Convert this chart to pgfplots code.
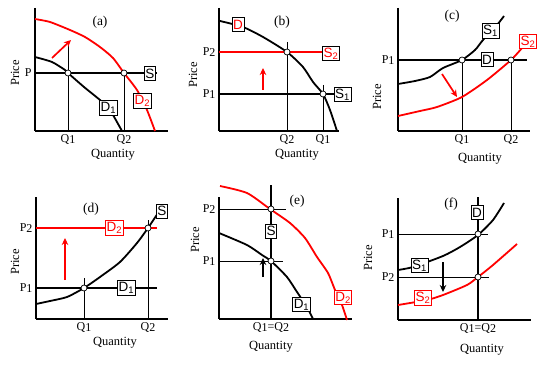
\documentclass[border=0pt]{standalone}
\usepackage{pgfplots}
\pgfplotsset{compat=1.18}
\usepackage{fontspec}
\setmainfont{Liberation Serif}
\setsansfont{Liberation Sans}
\usetikzlibrary{arrows.meta}
\definecolor{ered}{RGB}{255,0,0}
\newcommand{\lo}[1]{\raisebox{-1.5pt}{#1}}
\pgfplotsset{
  panel/.style={
    x=1pt, y=1pt, y dir=reverse,
    anchor=south west,
    axis x line=bottom, axis y line=left,
    axis line style={-, line width=1.2pt},
    major tick length=0pt,
    clip=false,
    tick label style={font=\fontsize{12}{13}\selectfont},
    label style={font=\fontsize{12.5}{13}\selectfont},
  },
  curve/.style={line width=1.8pt, smooth, tension=0.4, no marks},
  thin/.style={line width=0.8pt, no marks},
  eq/.style={only marks, mark=square*, mark size=3pt, mark options={fill=white, draw=black, line width=0.7pt}},
}
\tikzset{
  lab/.style={draw=black, fill=white, line width=0.7pt, inner xsep=1pt, inner ysep=1.5pt, minimum height=14pt, font=\sffamily\fontsize{13.5}{13}\selectfont},
  ttl/.style={font=\fontsize{13.5}{14}\selectfont},
  arr/.style={line width=1.7pt, -{Stealth[length=7pt,width=6.5pt]}},
}
\begin{document}
\begin{tikzpicture}
\path[use as bounding box] (0,0) rectangle (546pt,-366pt);
% (a)
\begin{axis}[panel, at={(35pt,-131pt)}, xmin=35, xmax=168, ymin=8, ymax=131,
  xtick={68,124}, xticklabels={Q\lo{1},Q\lo{2}}, ytick={73}, yticklabels={P},
  xlabel=Quantity, ylabel=Price,
  xlabel style={at={(axis cs:113,155)}, anchor=center},
  ylabel style={at={(axis cs:15,73)}, anchor=center}]
\addplot[thin] coordinates {(68,45) (68,131)};
\addplot[thin] coordinates {(124,73) (124,131)};
\addplot[curve] coordinates {(35,57) (52,62) (65,70) (68,73) (84,87) (100,100) (108,108) (113,115) (122,131)};
\addplot[line width=1.8pt, no marks] coordinates {(35,73) (157,73)};
\addplot[curve, ered] coordinates {(35,19) (50,22) (70,30) (85,37) (100,47) (113,58) (124,73) (137,90) (147,110) (155,131)};
\addplot[arr, ered] coordinates {(52,58) (71,40)};
\addplot[eq] coordinates {(68,73) (124,73)};
\node[ttl] at (axis cs:100,22) {(a)};
\node[lab] at (axis cs:150,73.5) {S};
\node[lab] at (axis cs:108.5,108) {D\textsubscript{1}};
\node[lab, text=ered] at (axis cs:142.5,101) {D\textsubscript{2}};
\end{axis}
% (b)
\begin{axis}[panel, at={(219pt,-131pt)}, xmin=219, xmax=339, ymin=8, ymax=131,
  xtick={287,323}, xticklabels={Q\lo{2},Q\lo{1}}, ytick={52,94}, yticklabels={P\lo{2},P\lo{1}},
  xlabel=Quantity, ylabel=Price,
  xlabel style={at={(axis cs:297,155)}, anchor=center},
  ylabel style={at={(axis cs:193,75)}, anchor=center}]
\addplot[thin] coordinates {(287,42) (287,131)};
\addplot[thin] coordinates {(323,85) (323,131)};
\addplot[line width=1.8pt, no marks, ered] coordinates {(219,52) (340,52)};
\addplot[line width=1.8pt, no marks] coordinates {(219,94) (335,94)};
\addplot[curve] coordinates {(220,21) (243,27) (263,37) (287,52) (303,67) (313,82) (323,94) (330,110) (337,131)};
\addplot[arr, ered] coordinates {(263,90) (263,68)};
\addplot[eq] coordinates {(287,52) (323,94)};
\node[ttl] at (axis cs:282,22) {(b)};
\node[lab, text=ered] at (axis cs:238,24.5) {D};
\node[lab, text=ered] at (axis cs:331,53.5) {S\textsubscript{2}};
\node[lab] at (axis cs:342.5,94.5) {S\textsubscript{1}};
\end{axis}
% (c)
\begin{axis}[panel, at={(398pt,-131pt)}, xmin=398, xmax=530, ymin=8, ymax=131,
  xtick={462,511}, xticklabels={Q\lo{1},Q\lo{2}}, ytick={60}, yticklabels={P\lo{1}},
  xlabel=Quantity, ylabel=Price,
  xlabel style={at={(axis cs:480,159)}, anchor=center},
  ylabel style={at={(axis cs:377,97)}, anchor=center}]
\addplot[thin] coordinates {(462,60) (462,131)};
\addplot[thin] coordinates {(511,60) (511,131)};
\addplot[line width=1.8pt, no marks] coordinates {(398,60) (527,60)};
\addplot[curve] coordinates {(398,84) (415,81) (430,77) (443,68) (462,60) (475,50) (483,40) (497,25) (504,16)};
\addplot[curve, ered] coordinates {(398,116) (420,111) (437,107) (462,97) (487,80) (511,60) (522,48)};
\addplot[arr, ered] coordinates {(442,74) (457,97)};
\addplot[eq] coordinates {(462,60) (511,60)};
\node[ttl] at (axis cs:452,16) {(c)};
\node[lab] at (axis cs:490.5,31) {S\textsubscript{1}};
\node[lab, draw=ered, text=ered] at (axis cs:528,41.5) {S\textsubscript{2}};
\node[lab] at (axis cs:487,59.5) {D};
\end{axis}
% (d)
\begin{axis}[panel, at={(36pt,-319pt)}, xmin=36, xmax=168, ymin=197, ymax=319,
  xtick={84,148}, xticklabels={Q\lo{1},Q\lo{2}}, ytick={228,288}, yticklabels={P\lo{2},P\lo{1}},
  xlabel=Quantity, ylabel=Price,
  xlabel style={at={(axis cs:115,343)}, anchor=center},
  ylabel style={at={(axis cs:15,262)}, anchor=center}]
\addplot[thin] coordinates {(84,278) (84,319)};
\addplot[thin] coordinates {(148,220) (148,319)};
\addplot[line width=1.8pt, no marks, ered] coordinates {(36,228) (157,228)};
\addplot[line width=1.8pt, no marks] coordinates {(36,288) (157,288)};
\addplot[curve] coordinates {(36,304) (50,301) (67,297) (84,288) (100,277) (120,262) (137,243) (148,228) (158,213)};
\addplot[arr, ered] coordinates {(65,280) (65,238)};
\addplot[eq] coordinates {(84,288) (148,228)};
\node[ttl] at (axis cs:91,209) {(d)};
\node[lab, draw=ered, text=ered] at (axis cs:114.5,228) {D\textsubscript{2}};
\node[lab] at (axis cs:126.5,288) {D\textsubscript{1}};
\node[lab] at (axis cs:162,211) {S};
\end{axis}
% (e)
\begin{axis}[panel, at={(219pt,-319pt)}, xmin=219, xmax=352, ymin=197, ymax=319,
  xtick={271}, xticklabels={Q\lo{1}=Q\lo{2}}, ytick={209,261}, yticklabels={P\lo{2},P\lo{1}},
  xlabel=Quantity, ylabel=Price,
  xlabel style={at={(axis cs:271,347)}, anchor=center},
  ylabel style={at={(axis cs:195,240)}, anchor=center}]
\addplot[thin] coordinates {(219,209) (286,209)};
\addplot[thin] coordinates {(219,261) (283,261)};
\addplot[line width=1.8pt, no marks] coordinates {(271,185) (271,319)};
\addplot[curve] coordinates {(219,233) (247,245) (262,255) (271,261) (287,277) (297,292) (307,307) (313,319)};
\addplot[curve, ered] coordinates {(220,186) (247,193) (270,209) (290,223) (305,238) (317,257) (328,273) (335,290) (342,305) (347,320)};
\addplot[arr] coordinates {(263,277) (263,258)};
\addplot[eq] coordinates {(271,209) (271,261)};
\node[ttl] at (axis cs:297,201) {(e)};
\node[lab] at (axis cs:271,231) {S};
\node[lab] at (axis cs:301.5,304.5) {D\textsubscript{1}};
\node[lab, draw=ered, text=ered] at (axis cs:343,297.5) {D\textsubscript{2}};
\end{axis}
% (f)
\begin{axis}[panel, at={(398pt,-320pt)}, xmin=398, xmax=531, ymin=198, ymax=320,
  xtick={478}, xticklabels={Q\lo{1}=Q\lo{2}}, ytick={234,277}, yticklabels={P\lo{1},P\lo{2}},
  xlabel=Quantity, ylabel=Price,
  xlabel style={at={(axis cs:482,350)}, anchor=center},
  ylabel style={at={(axis cs:368,258)}, anchor=center}]
\addplot[thin] coordinates {(398,234) (488,234)};
\addplot[thin] coordinates {(398,277) (489,277)};
\addplot[line width=1.8pt, no marks] coordinates {(478,197) (478,320)};
\addplot[curve] coordinates {(398,270) (413,267) (443,256) (460,247) (478,235) (493,220) (504,203)};
\addplot[curve, ered] coordinates {(398,305) (427,300) (443,295) (467,285) (478,277) (493,265) (517,244)};
\addplot[arr] coordinates {(443,262) (443,292)};
\addplot[eq] coordinates {(478,234) (478,277)};
\node[ttl] at (axis cs:451,204) {(f)};
\node[lab] at (axis cs:477,212.5) {D};
\node[lab] at (axis cs:419.5,265.5) {S\textsubscript{1}};
\node[lab, draw=ered, text=ered] at (axis cs:423,298) {S\textsubscript{2}};
\end{axis}
\end{tikzpicture}
\end{document}
